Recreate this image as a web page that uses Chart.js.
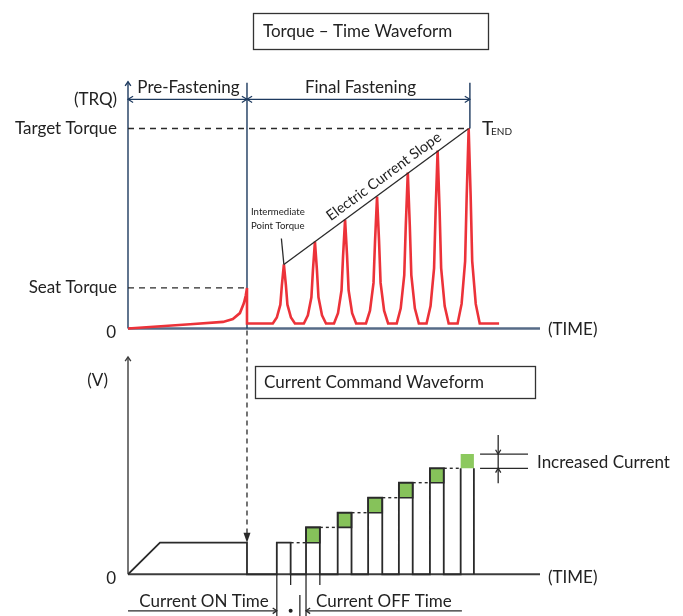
<!DOCTYPE html>
<html>
<head>
<meta charset="utf-8">
<style>
  html, body { margin: 0; padding: 0; background: #fff; }
  #wrap { position: relative; width: 683px; height: 616px; }
</style>
</head>
<body>
<div id="wrap"><canvas id="myChart" width="683" height="616"></canvas></div>
<script src="https://cdn.jsdelivr.net/npm/chart.js@4.4.0/dist/chart.umd.min.js"></script>
<script>
"use strict";

// time axis in arbitrary units, torque in % of target, command level in arbitrary units
const timeMax = 134;
const preEnd = 38.7;        // end of pre-fastening
const finalEnd = 111.2;     // end of final fastening (T END)

const seatTorque = 20.3;
const targetTorque = 100;

// torque trace: [time, torque]
const preTorque = [
    [0, 0], [20.2, 2.1], [30.9, 3.3], [34.1, 4.7], [36.4, 7.7],
    [37.7, 12.7], [38.3, 16.5], [38.7, 20.3], [38.7, 2.5]
];
const finalTorque = [
    [47.1, 2.5], [48.4, 5.5], [49.55, 11.9], [50.05, 21.7], [50.7, 32], [51.35, 21.7], [51.85, 11.9], [53.0, 5.5], [54.3, 2.5],
    [57.2, 2.5], [58.5, 6.6], [59.65, 15.6], [60.15, 29.2], [60.8, 43.5], [61.45, 29.2], [61.95, 15.6], [63.1, 6.6], [64.4, 2.5],
    [67.0, 2.5], [68.3, 7.7], [69.45, 19.1], [69.95, 36.3], [70.6, 54.5], [71.25, 36.3], [71.75, 19.1], [72.9, 7.7], [74.2, 2.5],
    [77.4, 2.5], [78.7, 8.9], [79.85, 22.8], [80.35, 43.8], [81.0, 66], [81.65, 43.8], [82.15, 22.8], [83.3, 8.9], [84.6, 2.5],
    [87.4, 2.5], [88.7, 10.1], [89.85, 26.7], [90.35, 51.6], [91.0, 78], [91.65, 51.6], [92.15, 26.7], [93.3, 10.1], [94.6, 2.5],
    [97.1, 2.5], [98.4, 11.2], [99.55, 30.2], [100.05, 58.7], [100.7, 89], [101.35, 58.7], [101.85, 30.2], [103.0, 11.2], [104.3, 2.5],
    [107.2, 2.5], [108.5, 12.3], [109.65, 33.7], [110.15, 65.9], [110.8, 100], [111.45, 65.9], [111.95, 33.7], [113.1, 12.3], [114.4, 2.5],
    [120.7, 2.5]
];
const peakTimes = [50.7, 60.8, 70.6, 81.0, 91.0, 100.7, 110.8];
const peakTorque = [32, 43.5, 54.5, 66, 78, 89, 100];

// current command waveform
const rampEnd = 10.4;
const preLevel = 21.1;
const pulseStart = [48.4, 57.9, 68.2, 78.1, 88.1, 98.2, 108.2];
const pulseEnd   = [52.9, 62.4, 72.7, 82.7, 92.6, 102.7, 112.5];
const pulseLevel = [21.1, 31.3, 41.1, 51.1, 61.1, 70.7, 80.2];

const navy = '#1d3a5f';
const slate = '#566b87';
const ink = '#2a2a2a';
const red = '#ec3239';
const green = '#86c25a';
const font = 'Lato, "Open Sans", sans-serif';

function pts(arr) {
    return arr.map(p => ({ x: p[0], y: p[1] }));
}

// command waveform outline
let cmd = [[0, 0], [rampEnd, preLevel], [preEnd, preLevel], [preEnd, 0]];
pulseStart.forEach((s, i) => {
    let top = i === pulseStart.length - 1 ? pulseLevel[i - 1] : pulseLevel[i];
    cmd.push([s, 0], [s, top]);
    if (i === pulseStart.length - 1) cmd.push([s, null], [pulseEnd[i], null]);
    cmd.push([pulseEnd[i], top], [pulseEnd[i], 0]);
});

let datasets = [
    { label: 'torque', yAxisID: 'yT', data: pts(preTorque.concat(finalTorque)), borderColor: red, borderWidth: 2.6 },
    { label: 'command', yAxisID: 'yV', data: pts(cmd), borderColor: ink, borderWidth: 1.8, spanGaps: false }
];

// increase steps (green)
for (let i = 1; i < pulseLevel.length; i++) {
    let last = i === pulseLevel.length - 1;
    datasets.push({
        yAxisID: 'yV',
        data: pts([[pulseStart[i], pulseLevel[i - 1]], [pulseStart[i], pulseLevel[i]], [pulseEnd[i], pulseLevel[i]],
                   [pulseEnd[i], pulseLevel[i - 1]], [pulseStart[i], pulseLevel[i - 1]]]),
        borderColor: last ? 'rgba(0,0,0,0)' : ink,
        borderWidth: last ? 0 : 1.6,
        backgroundColor: last ? '#8cc95e' : green,
        fill: 'shape'
    });
}

// dotted links between pulses
for (let i = 0; i < pulseLevel.length - 1; i++) {
    datasets.push({
        yAxisID: 'yV',
        data: pts([[pulseEnd[i], pulseLevel[i]], [pulseStart[i + 1], pulseLevel[i]]]),
        borderColor: ink,
        borderWidth: 1.4,
        borderDash: [3, 3]
    });
}

function line(c, x1, y1, x2, y2) {
    c.beginPath();
    c.moveTo(x1, y1);
    c.lineTo(x2, y2);
    c.stroke();
}

function chevron(c, x, y, ang, len, spread) {
    c.beginPath();
    c.moveTo(x - len * Math.cos(ang - spread), y - len * Math.sin(ang - spread));
    c.lineTo(x, y);
    c.lineTo(x - len * Math.cos(ang + spread), y - len * Math.sin(ang + spread));
    c.stroke();
}

function text(c, str, x, y, size, align, base) {
    c.font = size + 'px ' + font;
    c.textAlign = align || 'left';
    c.textBaseline = base || 'middle';
    c.fillText(str, x, y);
}

const RIGHT = 0, LEFT = Math.PI, UP = -Math.PI / 2, DOWN = Math.PI / 2;

const diagram = {
    id: 'diagram',
    beforeDatasetsDraw(chart) {
        const c = chart.ctx, x = chart.scales.x, yT = chart.scales.yT, yV = chart.scales.yV;
        const x0 = x.getPixelForValue(0), xEnd = x.getPixelForValue(timeMax);
        const xPre = x.getPixelForValue(preEnd), xFin = x.getPixelForValue(finalEnd);
        const t0 = yT.getPixelForValue(0), v0 = yV.getPixelForValue(0);
        c.save();

        // torque axes
        c.strokeStyle = slate; c.lineWidth = 2.5;
        line(c, x0, t0, xEnd, t0);
        c.strokeStyle = navy; c.lineWidth = 1.4;
        line(c, x0, t0, x0, yT.getPixelForValue(123.4));
        chevron(c, x0, yT.getPixelForValue(123.4), UP, 5, 0.6);
        line(c, xPre, t0, xPre, yT.getPixelForValue(122.9));
        line(c, xFin, yT.getPixelForValue(targetTorque), xFin, yT.getPixelForValue(122.9));

        // fastening dimension line
        const dY = yT.getPixelForValue(114.6);
        c.lineWidth = 1.2;
        line(c, x0, dY, xFin, dY);
        chevron(c, x0, dY, LEFT, 6, 0.55);
        chevron(c, xPre, dY, RIGHT, 6, 0.55);
        chevron(c, xPre, dY, LEFT, 6, 0.55);
        chevron(c, xFin, dY, RIGHT, 6, 0.55);

        // seat / target reference
        c.strokeStyle = ink; c.lineWidth = 1.3; c.setLineDash([6, 5]);
        line(c, x0, yT.getPixelForValue(seatTorque), xPre, yT.getPixelForValue(seatTorque));
        line(c, x0, yT.getPixelForValue(targetTorque), xFin, yT.getPixelForValue(targetTorque));

        // link arrow from seat torque to command
        c.setLineDash([5, 4]);
        const tip = yV.getPixelForValue(preLevel);
        line(c, xPre, t0 + 2, xPre, tip - 9);
        c.setLineDash([]);
        c.fillStyle = ink;
        c.beginPath();
        c.moveTo(xPre, tip); c.lineTo(xPre - 3.5, tip - 10); c.lineTo(xPre + 3.5, tip - 10);
        c.closePath(); c.fill();

        // command axes
        c.strokeStyle = '#3c3c3c'; c.lineWidth = 2;
        line(c, x0, v0, xEnd, v0);
        c.lineWidth = 1.4;
        line(c, x0, v0, x0, yV.getPixelForValue(144.9));
        chevron(c, x0, yV.getPixelForValue(144.9), UP, 5, 0.6);
        c.restore();
    },
    afterDatasetsDraw(chart) {
        const c = chart.ctx, x = chart.scales.x, yT = chart.scales.yT, yV = chart.scales.yV;
        const x0 = x.getPixelForValue(0), xEnd = x.getPixelForValue(timeMax);
        const xPre = x.getPixelForValue(preEnd);
        const t0 = yT.getPixelForValue(0), v0 = yV.getPixelForValue(0);
        c.save();
        c.fillStyle = '#222';
        c.strokeStyle = ink;

        // slope line from first to last peak
        const n = peakTimes.length - 1;
        const p1x = x.getPixelForValue(peakTimes[0]), p1y = yT.getPixelForValue(peakTorque[0]);
        const p7x = x.getPixelForValue(peakTimes[n]), p7y = yT.getPixelForValue(peakTorque[n]);
        c.lineWidth = 1.3;
        line(c, p1x, p1y, p7x, p7y);
        line(c, p1x - 2.5, p1y - 26, p1x, p1y);
        const ang = Math.atan2(p7y - p1y, p7x - p1x);
        const len = Math.hypot(p7x - p1x, p7y - p1y);
        const along = len * 0.578, off = 7;
        c.save();
        c.translate(p1x + along * Math.cos(ang) + off * Math.sin(ang), p1y + along * Math.sin(ang) - off * Math.cos(ang));
        c.rotate(ang);
        text(c, 'Electric Current Slope', 0, 0, 14.5, 'center', 'alphabetic');
        c.restore();
        text(c, 'Intermediate', 251, 212, 9.6);
        text(c, 'Point Torque', 251, 226, 9.6);

        // torque labels
        text(c, 'Pre-Fastening', (x0 + xPre) / 2 + 1, yT.getPixelForValue(114.6) - 6, 17, 'center', 'alphabetic');
        text(c, 'Final Fastening', (xPre + x.getPixelForValue(finalEnd)) / 2 + 2, yT.getPixelForValue(114.6) - 6, 17, 'center', 'alphabetic');
        text(c, '(TRQ)', 117, yT.getPixelForValue(114.6), 17, 'right');
        text(c, 'Target Torque', 117, yT.getPixelForValue(targetTorque), 17, 'right');
        text(c, 'Seat Torque', 117, yT.getPixelForValue(seatTorque), 17, 'right');
        text(c, '0', 116, t0 + 4, 17, 'right');
        text(c, '(TIME)', 548, t0 + 1, 17);
        const tb = yT.getPixelForValue(targetTorque) + 6.5;
        text(c, 'T', 482, tb, 19, 'left', 'alphabetic');
        text(c, 'END', 491, tb, 10, 'left', 'alphabetic');

        // command labels
        text(c, '(V)', 108, yV.getPixelForValue(129), 17, 'right');
        text(c, '0', 116, v0 + 4, 17, 'right');
        text(c, '(TIME)', 548, v0 + 3, 17);

        // title boxes
        c.lineWidth = 1.3; c.strokeStyle = '#333';
        c.strokeRect(253.5, 13.5, 235, 36);
        text(c, 'Torque \u2013 Time Waveform', 263, 32, 17);
        c.strokeRect(255.5, 366.5, 280, 32);
        text(c, 'Current Command Waveform', 264, 383, 17);

        // increased current dimension
        const last = pulseLevel.length - 1;
        const iTop = yV.getPixelForValue(pulseLevel[last]), iBot = yV.getPixelForValue(pulseLevel[last - 1]);
        const xl = x.getPixelForValue(114.5), xr = x.getPixelForValue(130.1), xm = x.getPixelForValue(120.4);
        c.strokeStyle = ink; c.lineWidth = 1.3;
        line(c, xl, iTop, xr, iTop);
        line(c, xl, iBot, xr, iBot);
        line(c, xm, iTop - 19, xm, iBot + 15);
        chevron(c, xm, iTop, DOWN, 5, 0.55);
        chevron(c, xm, iBot, UP, 5, 0.55);
        text(c, 'Increased Current', 537, (iTop + iBot) / 2 + 1, 17);

        // ON / OFF time dimension
        const dimY = yV.getPixelForValue(-24.3);
        const s0 = x.getPixelForValue(pulseStart[0]), e0 = x.getPixelForValue(pulseEnd[0]);
        const s1 = x.getPixelForValue(pulseStart[1]), e1 = x.getPixelForValue(pulseEnd[1]);
        c.lineWidth = 1.3;
        line(c, s0, v0, s0, 616);
        line(c, s1, v0, s1, 616);
        line(c, e0, v0, e0, yV.getPixelForValue(-7.1));
        line(c, e1, v0, e1, yV.getPixelForValue(-7.1));
        line(c, x.getPixelForValue(55.9), yV.getPixelForValue(-13.8), x.getPixelForValue(55.9), 616);
        line(c, x0, dimY, s0, dimY);
        chevron(c, s0, dimY, RIGHT, 5, 0.6);
        line(c, s1, dimY, x.getPixelForValue(108.6), dimY);
        chevron(c, s1, dimY, LEFT, 5, 0.6);
        c.beginPath(); c.arc(e0, dimY, 2, 0, Math.PI * 2); c.fill();
        text(c, 'Current ON Time', s0 - 8, dimY - 3.5, 17, 'right', 'alphabetic');
        text(c, 'Current OFF Time', s1 + 10, dimY - 3.5, 17, 'left', 'alphabetic');
        c.restore();
    }
};

const ctx = document.getElementById('myChart').getContext('2d');
new Chart(ctx, {
    type: 'line',
    data: { datasets: datasets },
    options: {
        responsive: false,
        animation: false,
        layout: { padding: { left: 128, right: 143, top: 0, bottom: 0 } },
        plugins: { legend: { display: false }, tooltip: { enabled: false } },
        elements: { point: { radius: 0 }, line: { tension: 0, fill: false } },
        scales: {
            x: { type: 'linear', min: 0, max: timeMax, display: false },
            yT: { type: 'linear', min: -143.75, max: 164.25, display: false },
            yV: { type: 'linear', min: -27.77, max: 382.87, display: false }
        }
    },
    plugins: [diagram]
});
</script>
</body>
</html>
